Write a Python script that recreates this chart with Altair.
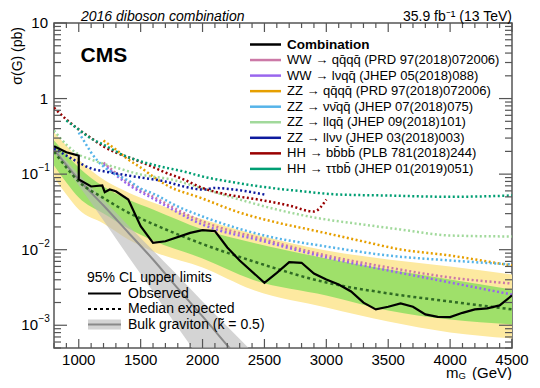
import altair as alt
import pandas as pd

FONT = "Liberation Sans"
W, H = 458, 325
X_DOMAIN = [800, 4500]
Y_DOMAIN = [0.0005, 10]

# ---- observed limit ----
obs_m = [800, 900, 1000, 1000, 1100, 1190, 1210, 1250, 1300, 1400,
         1500, 1600, 1700, 1900, 2000, 2100, 2200, 2300, 2500, 2600,
         2700, 2800, 2900, 3000, 3100, 3200, 3300, 3400, 3500, 3600,
         3700, 3800, 3900, 4000, 4100, 4200, 4300, 4400, 4500]
obs_s = [0.234, 0.195, 0.176, 0.085, 0.0686, 0.0707, 0.0576, 0.0626, 0.0594, 0.0461,
         0.0205, 0.01233, 0.01294, 0.0167, 0.0181, 0.0176, 0.0107, 0.0072, 0.00365, 0.00494,
         0.00684, 0.00671, 0.00484, 0.00403, 0.00347, 0.0028, 0.00199, 0.00162, 0.00176, 0.00194,
         0.00176, 0.00139, 0.00129, 0.00128, 0.00146, 0.00162, 0.00167, 0.00183, 0.00248]

# ---- expected limit and bands ----
exp_m = [800, 900, 1000, 1200, 1400, 1600, 2000, 2400, 3000, 3500, 4000, 4500]
exp_s = [0.199, 0.1223, 0.0798, 0.0483, 0.031, 0.0219, 0.01189, 0.00709, 0.00368, 0.00264, 0.00206, 0.00162]
exp_p2 = [0.355, 0.239, 0.156, 0.0848, 0.0571, 0.0421, 0.0252, 0.01638, 0.00976, 0.00742, 0.006, 0.0047]
exp_p1 = [0.278, 0.1816, 0.1223, 0.0685, 0.0461, 0.034, 0.01856, 0.01245, 0.00766, 0.00547, 0.00403, 0.00297]
exp_m1 = [0.130, 0.0774, 0.049, 0.0301, 0.0191, 0.01323, 0.00766, 0.00403, 0.00248, 0.00157, 0.00119, 0.001025]
exp_m2 = [0.0902, 0.0537, 0.034, 0.0222, 0.01364, 0.00947, 0.00582, 0.00297, 0.00172, 0.00112, 0.000803, 0.000669]

# ---- bulk graviton theory ----
grav_m = [800, 1000, 1200, 1400, 1600, 1800, 2000, 2200, 2400]
grav_s = [0.2115, 0.0848, 0.0384, 0.01689, 0.00742, 0.00307, 0.001307, 0.00054, 0.000223]
grav_hi = [0.232, 0.0988, 0.0461, 0.0209, 0.00976, 0.00456, 0.00206, 0.000964, 0.00045]
grav_lo = [0.193, 0.0707, 0.0243, 0.00813, 0.0028, 0.000935, 0.000322, 0.000111, 0.00004]

# ---- individual analyses (expected) ----
ww4q_m = [1200, 1400, 1600, 2000, 2500, 3000, 3500, 4000, 4500]
ww4q_s = [0.142, 0.0774, 0.0505, 0.0236, 0.01364, 0.00838, 0.00582, 0.00429, 0.00357]
wwlv_m = [1200, 1400, 1600, 2000, 2500, 3000, 3500, 4000, 4500]
wwlv_s = [0.134, 0.0729, 0.0475, 0.0215, 0.01284, 0.00788, 0.00531, 0.00368, 0.00255]
zz4q_m = [1200, 1300, 1400, 1500, 1600, 1700, 2000, 2300, 2600, 2900, 3300, 3600, 4000, 4300, 4500]
zz4q_s = [0.278, 0.2115, 0.156, 0.1223, 0.0929, 0.0729, 0.0475, 0.031, 0.0229, 0.01795, 0.01284, 0.01006, 0.00838, 0.00698, 0.00618]
zzvv_m = [1000, 1050, 1100, 1200, 1300, 1400, 1500, 1600, 1800, 2000, 2500, 3000, 3500, 4000, 4500]
zzvv_s = [0.355, 0.262, 0.193, 0.126, 0.0988, 0.0823, 0.0645, 0.0554, 0.0373, 0.0275, 0.01541, 0.01102, 0.00838, 0.0072, 0.00637]
zzll_m = [800, 900, 1000, 1100, 1300, 1500, 1750, 2000, 2300, 2600, 2900, 3300, 3600, 4000, 4500]
zzll_s = [0.377, 0.246, 0.1816, 0.156, 0.1223, 0.0988, 0.0848, 0.0645, 0.0461, 0.034, 0.0267, 0.0215, 0.0185, 0.01541, 0.01495]
zzllvv_m = [800, 900, 1000, 1100, 1200, 1350, 1500, 1700, 1850, 2000, 2100, 2250, 2500]
zzllvv_s = [0.218, 0.176, 0.1423, 0.1186, 0.1092, 0.0988, 0.0902, 0.0798, 0.0685, 0.0626, 0.0655, 0.0626, 0.0537]
hh4b_m = [800, 900, 1000, 1100, 1200, 1300, 1450, 1600, 1700, 1850, 2000, 2200, 2450, 2700, 2900, 3000]
hh4b_s = [0.76, 0.528, 0.389, 0.3, 0.232, 0.193, 0.156, 0.124, 0.105, 0.0848, 0.0655, 0.0537, 0.0461, 0.0384, 0.032, 0.0461]
hhtt_m = [900, 1000, 1100, 1200, 1350, 1500, 1650, 1850, 2000, 2200, 2450, 2800, 3100, 3500, 4000, 4500]
hhtt_s = [0.512, 0.389, 0.296, 0.246, 0.1816, 0.148, 0.1272, 0.1082, 0.0929, 0.0805, 0.0692, 0.0594, 0.0537, 0.0521, 0.0501, 0.0521]

legend_labels = ["Combination",
                 "WW \u2192 qq\u0304qq\u0304 (PRD 97(2018)072006)",
                 "WW \u2192 l\u03bdqq\u0304 (JHEP 05(2018)088)",
                 "ZZ \u2192 qq\u0304qq\u0304 (PRD 97(2018)072006)",
                 "ZZ \u2192 \u03bd\u03bd\u0304qq\u0304 (JHEP 07(2018)075)",
                 "ZZ \u2192 llqq\u0304 (JHEP 09(2018)101)",
                 "ZZ \u2192 ll\u03bd\u03bd (JHEP 03(2018)003)",
                 "HH \u2192 bb\u0304bb\u0304 (PLB 781(2018)244)",
                 "HH \u2192 \u03c4\u03c4bb\u0304 (JHEP 01(2019)051)"]
legend_colors = ["#000000", "#cc79a7", "#9966ee", "#e69f00", "#56b4e9",
                 "#a1d99b", "#0d1a9e", "#990000", "#009e73"]

# axis ticks and labels
x_major = [1000, 1500, 2000, 2500, 3000, 3500, 4000, 4500]
x_labels = ["1000", "1500", "2000", "2500", "3000", "3500", "4000", "4500"]
x_minor = [v for v in range(800, 4501, 100) if v % 500 != 0]
y_major = [0.001, 0.01, 0.1, 1, 10]
y_plain_vals = [10, 1]
y_plain_text = ["10", "1"]
y_exp_vals = [0.1, 0.01, 0.001]
y_exp_text = ["\u22121", "\u22122", "\u22123"]
y_minor = [k * d for d in [0.0001, 0.001, 0.01, 0.1, 1] for k in range(2, 10)
           if 0.0005 <= k * d <= 10]

xs = alt.Scale(domain=X_DOMAIN, nice=False, zero=False)
ys = alt.Scale(type="log", domain=Y_DOMAIN, nice=False)


def X(f):
    return alt.X(f, scale=xs, axis=None)


def Y(f):
    return alt.Y(f, scale=ys, axis=None)


layers = []

# bands
band_df = pd.DataFrame({"m": exp_m, "s": exp_s, "p2": exp_p2, "p1": exp_p1, "m1": exp_m1, "m2": exp_m2})
layers.append(alt.Chart(band_df).mark_area(color="#fde9a0", interpolate="monotone", clip=True).encode(
    x=X("m:Q"), y=Y("m2:Q"), y2="p2:Q"))
layers.append(alt.Chart(band_df).mark_area(color="#9fe06a", interpolate="monotone", clip=True).encode(
    x=X("m:Q"), y=Y("m1:Q"), y2="p1:Q"))

# bulk graviton
grav_df = pd.DataFrame({"m": grav_m, "s": grav_s, "hi": grav_hi, "lo": grav_lo})
layers.append(alt.Chart(grav_df).mark_area(color="#b8b8b8", opacity=0.6, interpolate="monotone", clip=True).encode(
    x=X("m:Q"), y=Y("lo:Q"), y2="hi:Q"))
layers.append(alt.Chart(grav_df).mark_line(color="#8a8a8a", strokeWidth=2, interpolate="monotone", clip=True).encode(
    x=X("m:Q"), y=Y("s:Q")))

# analyses
series = [(ww4q_m, ww4q_s, legend_colors[1]), (wwlv_m, wwlv_s, legend_colors[2]),
          (zz4q_m, zz4q_s, legend_colors[3]), (zzvv_m, zzvv_s, legend_colors[4]),
          (zzll_m, zzll_s, legend_colors[5]), (zzllvv_m, zzllvv_s, legend_colors[6]),
          (hh4b_m, hh4b_s, legend_colors[7]), (hhtt_m, hhtt_s, legend_colors[8])]
for m, s, c in series:
    df = pd.DataFrame({"m": m, "s": s})
    layers.append(alt.Chart(df).mark_line(color=c, strokeWidth=2.5, strokeDash=[2, 2.5],
                                          interpolate="monotone", clip=True).encode(
        x=X("m:Q"), y=Y("s:Q")))

# expected median
layers.append(alt.Chart(band_df).mark_line(color="#2f6b24", strokeWidth=2.5, strokeDash=[3, 3],
                                           interpolate="monotone", clip=True).encode(
    x=X("m:Q"), y=Y("s:Q")))

# observed
obs_df = pd.DataFrame({"m": obs_m, "s": obs_s, "i": list(range(len(obs_m)))})
layers.append(alt.Chart(obs_df).mark_line(color="black", strokeWidth=2.2, clip=True).encode(
    x=X("m:Q"), y=Y("s:Q"), order="i:Q"))

# inner ticks (ROOT style)
FR = "#555555"
for vals, ln in [(x_major, 9), (x_minor, 5)]:
    d = pd.DataFrame({"v": vals})
    layers.append(alt.Chart(d).mark_rule(color=FR, strokeWidth=1.2).encode(
        x=X("v:Q"), y=alt.value(H), y2=alt.value(H - ln)))
    layers.append(alt.Chart(d).mark_rule(color=FR, strokeWidth=1.2).encode(
        x=X("v:Q"), y=alt.value(0), y2=alt.value(ln)))
for vals, ln in [(y_major, 13), (y_minor, 7)]:
    d = pd.DataFrame({"v": vals})
    layers.append(alt.Chart(d).mark_rule(color=FR, strokeWidth=1.2).encode(
        y=Y("v:Q"), x=alt.value(0), x2=alt.value(ln)))
    layers.append(alt.Chart(d).mark_rule(color=FR, strokeWidth=1.2).encode(
        y=Y("v:Q"), x=alt.value(W), x2=alt.value(W - ln)))

# tick labels
xl = pd.DataFrame({"v": x_major, "t": x_labels})
layers.append(alt.Chart(xl).mark_text(font=FONT, fontSize=15, align="center", baseline="alphabetic",
                                      color="black").encode(
    x=X("v:Q"), y=alt.value(H + 17), text="t:N"))
ylp = pd.DataFrame({"v": y_plain_vals, "t": y_plain_text})
layers.append(alt.Chart(ylp).mark_text(font=FONT, fontSize=15, align="right", baseline="middle",
                                       color="black").encode(
    y=Y("v:Q"), x=alt.value(-6), text="t:N"))
yle = pd.DataFrame({"v": y_exp_vals, "t": y_exp_text, "b": ["10"] * 3})
layers.append(alt.Chart(yle).mark_text(font=FONT, fontSize=15, align="right", baseline="middle",
                                       color="black").encode(
    y=Y("v:Q"), x=alt.value(-16), text="b:N"))
layers.append(alt.Chart(yle).mark_text(font=FONT, fontSize=10, align="left", baseline="middle",
                                       dy=-6, color="black").encode(
    y=Y("v:Q"), x=alt.value(-15.5), text="t:N"))

# right legend
ly = [21.5 + i * 15.55 for i in range(len(legend_labels))]
leg = pd.DataFrame({"t": legend_labels, "c": legend_colors, "y": ly,
                    "x0": [196] * 9, "x1": [227] * 9, "xt": [233] * 9})
layers.append(alt.Chart(leg).mark_rule(strokeWidth=2.5).encode(
    x=alt.X("x0:Q", scale=None, axis=None), x2="x1:Q",
    y=alt.Y("y:Q", scale=None, axis=None), color=alt.Color("c:N", scale=None)))
layers.append(alt.Chart(leg.iloc[:1]).mark_text(align="left", baseline="middle", font=FONT, fontSize=13.5,
                                                fontWeight="bold", color="black").encode(
    x=alt.X("xt:Q", scale=None, axis=None), y=alt.Y("y:Q", scale=None, axis=None), text="t:N"))
layers.append(alt.Chart(leg.iloc[1:]).mark_text(align="left", baseline="middle", font=FONT, fontSize=13,
                                                color="black").encode(
    x=alt.X("xt:Q", scale=None, axis=None), y=alt.Y("y:Q", scale=None, axis=None), text="t:N"))

# left legend
left_labels = ["95% CL upper limits", "Observed", "Median expected", "Bulk graviton (k\u0303 = 0.5)"]
left_x = [33, 74, 74, 74]
left_y = [254.5, 270.5, 286, 301.5]
ltxt = pd.DataFrame({"t": left_labels, "x": left_x, "y": left_y})
layers.append(alt.Chart(ltxt).mark_text(align="left", baseline="middle", font=FONT, fontSize=14,
                                        color="black").encode(
    x=alt.X("x:Q", scale=None, axis=None), y=alt.Y("y:Q", scale=None, axis=None), text="t:N"))
one = pd.DataFrame({"a": [0]})
layers.append(alt.Chart(one).mark_rect(color="#d4d4d4").encode(
    x=alt.value(34), x2=alt.value(67), y=alt.value(296.5), y2=alt.value(306.5)))
layers.append(alt.Chart(one).mark_rule(color="#8a8a8a", strokeWidth=2).encode(
    x=alt.value(34), x2=alt.value(67), y=alt.value(301.5)))
layers.append(alt.Chart(one).mark_rule(color="black", strokeWidth=2.2).encode(
    x=alt.value(34), x2=alt.value(67), y=alt.value(270.5)))
layers.append(alt.Chart(one).mark_rule(color="black", strokeWidth=2.2, strokeDash=[3, 3]).encode(
    x=alt.value(34), x2=alt.value(67), y=alt.value(286)))


def txt(t, x, y, size, align="left", weight="normal", style="normal", angle=0, baseline="alphabetic"):
    return alt.Chart(pd.DataFrame({"t": [t]})).mark_text(
        align=align, baseline=baseline, font=FONT, fontSize=size, fontWeight=weight,
        fontStyle=style, angle=angle, color="black").encode(
        text="t:N", x=alt.value(x), y=alt.value(y))


layers.append(txt("CMS", 26.5, 38.5, 21, weight="bold"))
layers.append(txt("2016 diboson combination", 27, -2.5, 14, style="italic"))
layers.append(txt("35.9 fb\u207b\u00b9 (13 TeV)", W, -2.5, 14, align="right"))
layers.append(txt("\u03c3(G) (pb)", -32.5, 4, 14, align="right", angle=270))
layers.append(txt("(GeV)", W, H + 29.5, 15, align="right"))
layers.append(txt("G", 412, H + 31, 9.5, align="right"))
layers.append(txt("m", 404.5, H + 29.5, 15, align="right"))

chart = alt.layer(*layers).properties(
    width=W, height=H,
    autosize=alt.AutoSizeParams(type="none"),
    padding={"left": 46, "top": 15, "right": 20, "bottom": 32},
).configure_view(stroke=FR, strokeWidth=1.5)

chart.save("out.html", embed_options={"renderer": "svg", "actions": False})
